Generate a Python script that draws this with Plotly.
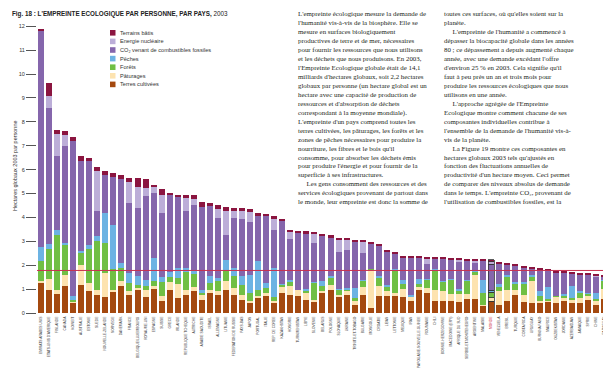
import plotly.graph_objects as go

countries = [
    "EMIRATS ARABES UNIS", "ETATS-UNIS D'AMERIQUE", "FINLANDE", "CANADA", "KOWEIT",
    "AUSTRALIE", "ESTONIE", "SUEDE", "NOUVELLE-ZELANDE", "NORVEGE",
    "DANEMARK", "FRANCE", "BELGIQUE/LUXEMBOURG", "ROYAUME-UNI", "ESPAGNE",
    "SUISSE", "GRECE", "IRLANDE", "REPUBLIQUE TCHEQUE", "AUTRICHE",
    "ARABIE SAOUDITE", "ISRAEL", "ALLEMAGNE", "LITUANIE", "FEDERATION DE RUSSIE",
    "PAYS-BAS", "JAPON", "PORTUGAL", "ITALIE", "REP. DE COREE",
    "KAZAKHSTAN", "HONGRIE", "TURKMENISTAN", "LIBYE", "SLOVENIE",
    "BELARUS", "POLOGNE", "SLOVAQUIE", "UKRAINE", "TRINITE-ET-TOBAGO",
    "BULGARIE", "MONGOLIE", "CROATIE", "LIBAN", "LETTONIE",
    "MEXIQUE", "IRAN", "PAPOUASIE-NOUVELLE-GUINEE", "ROUMANIE", "CHILI",
    "BOSNIE-HERZEGOVINE", "MACEDOINE (ERY)", "AFRIQUE DU SUD", "SERBIE-ET-MONTENEGRO", "ARGENTINE",
    "MALAISIE", "MONDE", "VENEZUELA", "BRESIL", "TURQUIE",
    "COSTA RICA", "URUGUAY", "BURKINA FASO", "MAURICE", "OUZBEKISTAN",
    "JORDANIE", "AZERBAIDJAN", "JAMAIQUE", "SYRIE", "CHINE",
    "PARAGUAY", "REP. DOMINICAINE",
]

terres_cultivees = [
    1.26, 0.95, 0.81, 1.12, 0.42, 1.16, 0.91, 0.77, 0.66, 0.88,
    1.12, 0.77, 1.00, 0.67, 1.00, 0.49, 0.95, 0.63, 0.77, 0.90,
    0.53, 0.84, 0.75, 0.97, 0.77, 0.56, 0.42, 0.63, 0.70, 0.42,
    0.84, 0.77, 0.70, 0.56, 0.45, 0.85, 0.97, 0.70, 0.77, 0.35,
    0.77, 0.20, 0.70, 0.70, 0.70, 0.66, 0.52, 0.98, 0.84, 0.49,
    0.49, 0.49, 0.45, 0.60, 0.60, 0.30, 0.49, 0.35, 0.52, 0.75,
    0.45, 0.42, 0.42, 0.49, 0.42, 0.49, 0.42, 0.42, 0.55, 0.35,
    0.60, 0.35,
]
paturages = [
    0.09, 0.47, 0.16, 0.46, 0.05, 0.86, 0.35, 0.20, 1.01, 0.10,
    0.21, 0.14, 0.05, 0.31, 0.15, 0.21, 0.35, 0.60, 0.18, 0.20,
    0.22, 0.13, 0.15, 0.36, 0.28, 0.20, 0.10, 0.07, 0.14, 0.10,
    0.28, 0.35, 0.27, 0.30, 0.11, 0.06, 0.21, 0.07, 0.13, 0.15,
    0.30, 1.60, 0.42, 0.21, 0.15, 0.36, 0.15, 0.10, 0.20, 0.49,
    0.44, 0.30, 0.35, 0.20, 1.00, 0.05, 0.14, 0.55, 0.45, 0.20,
    0.30, 0.90, 0.10, 0.05, 0.25, 0.15, 0.15, 0.20, 0.20, 0.15,
    0.40, 0.25,
]
forets = [
    0.82, 1.27, 2.28, 1.25, 0.09, 0.53, 1.43, 2.03, 1.26, 0.85,
    0.55, 0.35, 0.13, 0.14, 0.18, 0.60, 0.20, 0.25, 0.75, 0.55,
    0.10, 0.29, 0.45, 0.42, 0.49, 0.40, 0.30, 0.27, 0.21, 0.15,
    0.06, 0.21, 0.00, 0.05, 0.70, 0.21, 0.28, 0.20, 0.10, 0.13,
    0.30, 0.05, 0.34, 0.21, 0.90, 0.19, 0.03, 0.14, 0.35, 0.76,
    0.40, 0.60, 0.15, 0.55, 0.10, 0.49, 0.23, 0.20, 0.55, 0.30,
    0.45, 0.20, 0.20, 0.05, 0.03, 0.10, 0.05, 0.20, 0.05, 0.10,
    0.35, 0.10,
]
peches = [
    0.58, 0.20, 0.24, 0.10, 0.14, 0.05, 0.17, 0.21, 1.25, 1.86,
    0.21, 0.41, 0.36, 0.27, 0.97, 0.20, 0.20, 0.40, 0.18, 0.15,
    0.10, 0.28, 0.10, 0.48, 0.35, 0.40, 0.78, 1.19, 0.21, 1.20,
    0.02, 0.05, 0.00, 0.10, 0.05, 0.21, 0.10, 0.05, 0.05, 0.42,
    0.02, 0.00, 0.10, 0.05, 0.10, 0.18, 0.07, 0.20, 0.05, 0.11,
    0.02, 0.02, 0.05, 0.02, 0.10, 0.55, 0.09, 0.10, 0.05, 0.05,
    0.10, 0.05, 0.20, 0.50, 0.00, 0.05, 0.50, 0.10, 0.02, 0.25,
    0.02, 0.10,
]
co2_fossiles = [
    9.05, 5.69, 3.07, 4.04, 6.48, 3.75, 3.49, 1.05, 1.61, 2.01,
    3.50, 2.93, 2.85, 3.49, 2.72, 2.68, 3.25, 2.96, 2.40, 2.70,
    3.47, 2.92, 2.52, 1.05, 2.09, 2.36, 2.20, 1.94, 2.78, 1.62,
    2.65, 1.71, 2.39, 2.33, 1.60, 1.91, 1.61, 1.55, 1.57, 1.96,
    1.12, 1.04, 1.28, 1.39, 0.64, 0.93, 1.55, 0.90, 0.59, 0.43,
    0.93, 0.84, 1.15, 0.84, 0.33, 0.79, 1.10, 0.87, 0.45, 0.70,
    0.60, 0.28, 0.90, 0.70, 1.00, 0.90, 0.55, 0.70, 0.80, 0.69,
    0.16, 0.73,
]
energie_nucleaire = [
    0.00, 0.52, 0.94, 0.49, 0.00, 0.00, 0.00, 1.67, 0.00, 0.00,
    0.00, 0.88, 0.87, 0.35, 0.24, 0.77, 0.00, 0.00, 0.53, 0.27,
    0.00, 0.00, 0.39, 0.98, 0.30, 0.34, 0.42, 0.00, 0.00, 0.48,
    0.00, 0.30, 0.00, 0.00, 0.40, 0.00, 0.00, 0.50, 0.45, 0.00,
    0.50, 0.00, 0.00, 0.00, 0.00, 0.00, 0.00, 0.00, 0.25, 0.00,
    0.00, 0.00, 0.10, 0.00, 0.05, 0.00, 0.09, 0.00, 0.00, 0.00,
    0.00, 0.00, 0.00, 0.00, 0.00, 0.00, 0.00, 0.00, 0.00, 0.01,
    0.00, 0.00,
]
terrains_batis = [
    0.10, 0.52, 0.17, 0.17, 0.17, 0.21, 0.15, 0.17, 0.16, 0.17,
    0.17, 0.17, 0.38, 0.37, 0.11, 0.24, 0.05, 0.11, 0.14, 0.15,
    0.22, 0.14, 0.17, 0.16, 0.11, 0.13, 0.13, 0.08, 0.10, 0.07,
    0.10, 0.10, 0.08, 0.08, 0.08, 0.07, 0.08, 0.07, 0.07, 0.06,
    0.06, 0.04, 0.05, 0.05, 0.05, 0.05, 0.05, 0.05, 0.05, 0.05,
    0.05, 0.05, 0.05, 0.06, 0.05, 0.05, 0.09, 0.06, 0.07, 0.05,
    0.05, 0.06, 0.06, 0.06, 0.07, 0.05, 0.05, 0.05, 0.05, 0.05,
    0.05, 0.05,
]

biocapacite_mondiale = 1.78
y_ticks = list(range(0, 13))
world_label = "MONDE"

# series in stacking order (bottom -> top)
series = [
    ("Terres cultivées", terres_cultivees, "#a4490f"),
    ("Pâturages", paturages, "#fde3b0"),
    ("Forêts", forets, "#70bf44"),
    ("Pêches", peches, "#6cb3e3"),
    ("CO₂ venant de combustibles fossiles", co2_fossiles, "#8566ac"),
    ("Energie nucléaire", energie_nucleaire, "#bcaed8"),
    ("Terrains bâtis", terrains_batis, "#8b1540"),
]

W_FIG, H_FIG = 611, 369
L, R, T, B = 29, 3, 11, 64
PW = W_FIG - L - R
PH = H_FIG - T - B


def px_x(px):
    return (px - L) / PW


def px_y(py):
    return 1 - (py - T) / PH


xs = list(range(len(countries)))
line_w = [0.8 if c == world_label else 0 for c in countries]

fig = go.Figure()
for name, vals, col in series:
    fig.add_trace(go.Bar(
        x=xs, y=vals, name=name,
        marker=dict(color=col, line=dict(width=line_w, color="#333333")),
        showlegend=False, hoverinfo="skip",
    ))

ticktext = [
    ('<span style="color:#c8102e">%s</span>' % c) if c == world_label else c
    for c in countries
]

fig.update_layout(
    width=W_FIG, height=H_FIG,
    margin=dict(l=L, r=R, t=T, b=B, pad=0),
    barmode="stack", bargap=0.25,
    paper_bgcolor="white", plot_bgcolor="white",
    font=dict(family="Liberation Sans, Arial, sans-serif", color="#333333"),
    xaxis=dict(
        range=[-0.5, len(countries) - 0.5],
        tickmode="array", tickvals=xs, ticktext=ticktext,
        tickangle=-90, tickfont=dict(size=3.3, color="#333333"),
        showgrid=False, zeroline=False, showline=False, ticks="",
        ticklabelstandoff=2,
    ),
    yaxis=dict(
        range=[0, PH / 23.9],
        tickmode="array", tickvals=y_ticks,
        ticks="outside", ticklen=10, tickwidth=0.8, tickcolor="#555555",
        tickfont=dict(size=5.5, color="#333333"),
        showgrid=False, zeroline=False, showline=False,
    ),
)

# world biocapacity line
fig.add_shape(type="line", xref="paper", x0=0, x1=1, yref="y",
              y0=biocapacite_mondiale, y1=biocapacite_mondiale,
              line=dict(color="#c8314f", width=1), layer="above")

# title
fig.add_annotation(
    xref="paper", yref="paper", x=px_x(2), y=px_y(-0.5),
    xanchor="left", yanchor="top", showarrow=False,
    text="<b>Fig. 18 : L'EMPREINTE ECOLOGIQUE PAR PERSONNE, PAR PAYS,</b> 2003",
    font=dict(size=6.3, color="#222222", family="Liberation Sans, Arial, sans-serif"),
)

# y axis title
fig.add_annotation(
    xref="paper", yref="paper", x=px_x(7), y=px_y(158),
    xanchor="center", yanchor="middle", showarrow=False, textangle=-90,
    text="Hectares globaux 2003 par personne",
    font=dict(size=5.5, color="#333333"),
)

# custom legend (top to bottom)
for i, (name, vals, col) in enumerate(reversed(series)):
    cy = 24.8 + i * 8.6
    fig.add_shape(type="rect", xref="paper", yref="paper",
                  x0=px_x(102), x1=px_x(107.5),
                  y0=px_y(cy - 2.8), y1=px_y(cy + 2.8),
                  fillcolor=col, line=dict(width=0))
    fig.add_annotation(
        xref="paper", yref="paper", x=px_x(109.5), y=px_y(cy),
        xanchor="left", yanchor="middle", showarrow=False,
        text=name, font=dict(size=5.6, color="#333333"),
    )

NB = "\u00a0" * 5
col1 = [
    "L'empreinte écologique mesure la demande de",
    "l'humanité vis-à-vis de la biosphère. Elle se",
    "mesure en surfaces biologiquement",
    "productives de terre et de mer, nécessaires",
    "pour fournir les ressources que nous utilisons",
    "et les déchets que nous produisons. En 2003,",
    "l'Empreinte Ecologique globale était de 14,1",
    "milliards d'hectares globaux, soit 2,2 hectares",
    "globaux par personne (un hectare global est un",
    "hectare avec une capacité de production de",
    "ressources et d'absorption de déchets",
    "correspondant à la moyenne mondiale).",
    "L'empreinte d'un pays comprend toutes les",
    "terres cultivées, les pâturages, les forêts et les",
    "zones de pêches nécessaires pour produire la",
    "nourriture, les fibres et le bois qu'il",
    "consomme, pour absorber les déchets émis",
    "pour produire l'énergie et pour fournir de la",
    "superficie à ses infrastructures.",
    NB + "Les gens consomment des ressources et des",
    "services écologiques provenant de partout dans",
    "le monde, leur empreinte est donc la somme de",
]
col2 = [
    "toutes ces surfaces, où qu'elles soient sur la",
    "planète.",
    NB + "L'empreinte de l'humanité a commencé à",
    "dépasser la biocapacité globale dans les années",
    "80 ; ce dépassement a depuis augmenté chaque",
    "année, avec une demande excédant l'offre",
    "d'environ 25 % en 2003. Cela signifie qu'il",
    "faut à peu près un an et trois mois pour",
    "produire les ressources écologiques que nous",
    "utilisons en une année.",
    NB + "L'approche agrégée de l'Empreinte",
    "Ecologique montre comment chacune de ses",
    "composantes individuelles contribue à",
    "l'ensemble de la demande de l'humanité vis-à-",
    "vis de la planète.",
    NB + "La Figure 19 montre ces composantes en",
    "hectares globaux 2003 tels qu'ajustés en",
    "fonction des fluctuations annuelles de",
    "productivité d'un hectare moyen. Ceci permet",
    "de comparer des niveaux absolus de demande",
    "dans le temps. L'empreinte CO₂, provenant de",
    "l'utilisation de combustibles fossiles, est la",
]
for x0, lines in ((288, col1), (434, col2)):
    fig.add_annotation(
        xref="paper", yref="paper", x=px_x(x0), y=px_y(-0.5),
        xanchor="left", yanchor="top", showarrow=False, align="left",
        text="<br>".join(lines),
        font=dict(size=6.9, color="#231f20",
                  family="Liberation Serif, Times New Roman, serif"),
    )

fig.write_html("out.html")
